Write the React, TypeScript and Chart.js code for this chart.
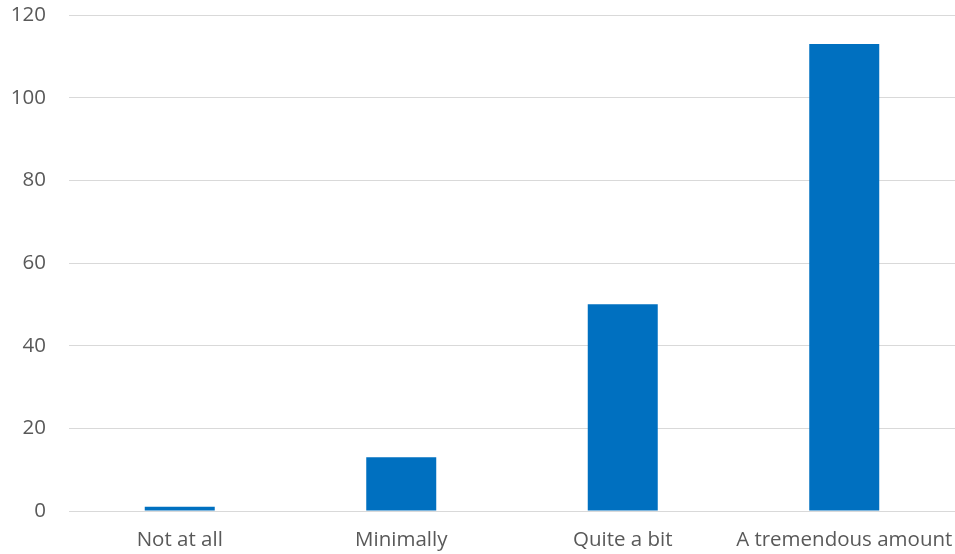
import React, { useEffect, useRef } from "react";
import { Chart, registerables } from "chart.js";

Chart.register(...registerables);

const categories = ["Not at all", "Minimally", "Quite a bit", "A tremendous amount"];
const values = [1, 13, 50, 113];
const yTicks = [0, 20, 40, 60, 80, 100, 120];

export default function App() {
  const ref = useRef<HTMLCanvasElement | null>(null);
  useEffect(() => {
    document.body.style.margin = "0";
    const ctx = ref.current!;
    const chart = new Chart(ctx, {
      type: "bar",
      data: {
        labels: categories,
        datasets: [
          {
            data: values,
            backgroundColor: "#0070C0",
            barPercentage: 0.316,
            categoryPercentage: 1,
          },
        ],
      },
      options: {
        animation: false,
        responsive: false,
        maintainAspectRatio: false,
        layout: { padding: { top: 15, right: 0, left: 0, bottom: 0 } },
        plugins: { legend: { display: false }, tooltip: { enabled: false } },
        scales: {
          x: {
            grid: { display: false, drawTicks: false },
            border: { display: false },
            ticks: {
              color: "#595959",
              font: { family: "'Open Sans', sans-serif", size: 20.5 },
              padding: 17,
              maxRotation: 0,
              autoSkip: false,
            },
            afterFit: (s: any) => {
              s.height = 43;
              s.paddingLeft = 0;
              s.paddingRight = 0;
            },
          },
          y: {
            min: 0,
            max: 120,
            afterBuildTicks: (s: any) => {
              s.ticks = yTicks.map((v) => ({ value: v }));
            },
            grid: { color: "#d9d9d9", lineWidth: 1, drawTicks: false },
            border: { display: false },
            ticks: {
              color: "#595959",
              font: { family: "'Open Sans', sans-serif", size: 20.5 },
              padding: 23,
            },
            afterFit: (s: any) => {
              s.width = 69;
              s.paddingTop = 0;
              s.paddingBottom = 0;
            },
          },
        },
      },
    });
    return () => chart.destroy();
  }, []);
  return (
    <div style={{ position: "absolute", left: 0, top: 0, width: 955, height: 554 }}>
      <canvas ref={ref} width={955} height={554} style={{ width: 955, height: 554 }} />
    </div>
  );
}
